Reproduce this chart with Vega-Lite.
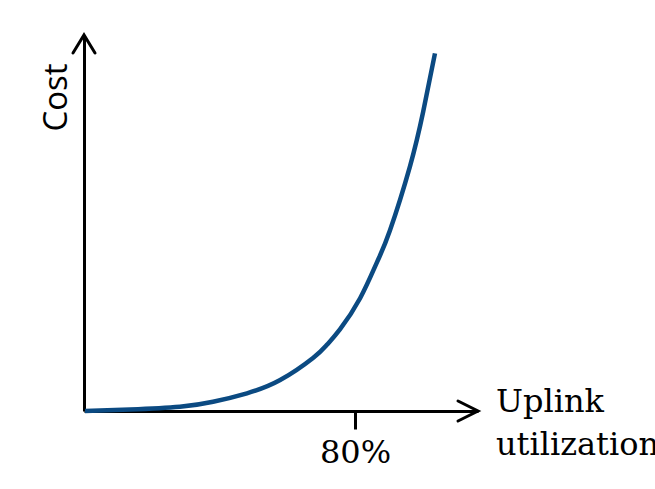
{
  "$schema": "https://vega.github.io/schema/vega-lite/v6.json",
  "width": 394,
  "height": 376,
  "autosize": "none",
  "padding": {"left": 84, "top": 35, "right": 177, "bottom": 78},
  "background": "white",
  "config": {"view": {"stroke": null}},
  "datasets": {
    "curve": [
      {"u": 0.3, "c": 0}, {"u": 13.6, "c": 0.4}, {"u": 28.3, "c": 1.14}, {"u": 38.1, "c": 2.47},
      {"u": 48.1, "c": 4.71}, {"u": 57.9, "c": 8.24}, {"u": 67.6, "c": 14.1}, {"u": 71.7, "c": 17.6},
      {"u": 75.6, "c": 21.8}, {"u": 81.5, "c": 30.0}, {"u": 86.5, "c": 39.6}, {"u": 90.3, "c": 48.0},
      {"u": 96.2, "c": 65.0}, {"u": 100.1, "c": 79.5}, {"u": 103.6, "c": 95.1}
    ],
    "arrows": [
      {"u": 110.4, "c": 2.66, "g": "x", "o": 0}, {"u": 116.3, "c": 0, "g": "x", "o": 1}, {"u": 110.4, "c": -2.66, "g": "x", "o": 2},
      {"u": -3.25, "c": 95.2, "g": "y", "o": 0}, {"u": 0, "c": 100, "g": "y", "o": 1}, {"u": 3.25, "c": 95.2, "g": "y", "o": 2}
    ],
    "labels": [
      {"u": 121.6, "c": -0.3, "t": "Uplink\nutilization"}
    ]
  },
  "encoding": {
    "x": {
      "field": "u", "type": "quantitative",
      "scale": {"domain": [0, 116.3], "nice": false, "zero": false},
      "axis": {
        "values": [80], "labelExpr": "datum.value + '%'", "title": null, "grid": false,
        "domainColor": "black", "domainWidth": 3, "tickColor": "black", "tickWidth": 3, "tickSize": 18,
        "labelFont": "DejaVu Serif", "labelFontSize": 32, "labelColor": "black", "labelPadding": 8
      }
    },
    "y": {
      "field": "c", "type": "quantitative",
      "scale": {"domain": [0, 100], "nice": false, "zero": false},
      "axis": {
        "ticks": false, "labels": false, "grid": false, "title": "Cost",
        "domainColor": "black", "domainWidth": 3,
        "titleFont": "Open Sans", "titleFontSize": 33, "titleFontWeight": "normal", "titleColor": "black",
        "titleAngle": -90, "titleAlign": "center", "titleBaseline": "alphabetic", "titleX": -18, "titleY": 62
      }
    }
  },
  "layer": [
    {
      "data": {"name": "arrows"},
      "mark": {"type": "line", "color": "black", "strokeWidth": 3, "strokeCap": "round", "strokeJoin": "miter"},
      "encoding": {"detail": {"field": "g"}, "order": {"field": "o"}}
    },
    {
      "data": {"name": "curve"},
      "mark": {"type": "line", "color": "#0b4a82", "strokeWidth": 4.5, "interpolate": "natural"},
      "encoding": {}
    },
    {
      "data": {"name": "labels"},
      "mark": {"type": "text", "align": "left", "baseline": "alphabetic", "font": "DejaVu Serif", "fontSize": 32, "color": "black", "lineBreak": "\n", "lineHeight": 43},
      "encoding": {"text": {"field": "t"}}
    }
  ]
}
